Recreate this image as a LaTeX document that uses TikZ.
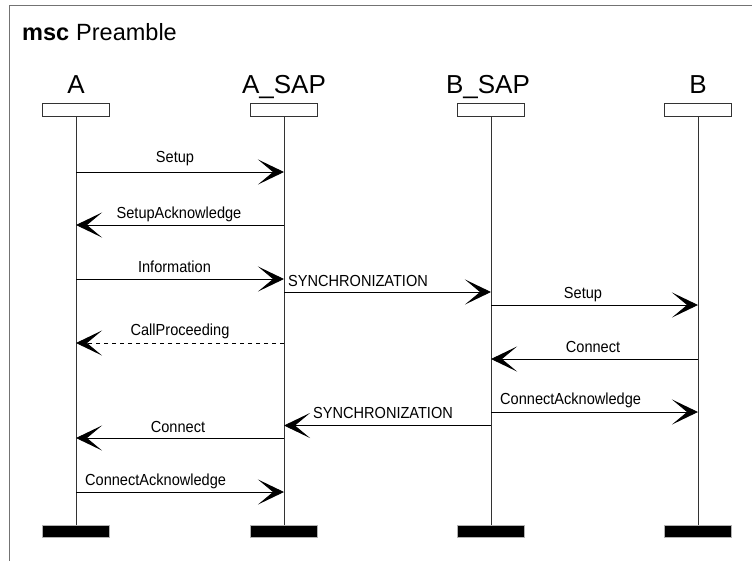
\documentclass[tikz,border=0pt]{standalone}
\usepackage{fontspec}
\setmainfont{Liberation Sans}
\newfontfamily\lblfont{Liberation Sans}[FakeStretch=0.91]
\usetikzlibrary{arrows.meta}
\tikzset{
  frame/.style={draw=black!55, line width=1.8pt},
  headbox/.style={draw=black!80, line width=0.9pt, fill=white, minimum width=67pt, minimum height=13pt, inner sep=0pt},
  endbar/.style={fill=black, draw=black!30, line width=0.5pt, minimum width=67pt, minimum height=12.5pt, inner sep=0pt},
  lifeline/.style={draw=black!80, line width=0.9pt},
  inst/.style={font=\fontsize{26}{28}\selectfont, inner sep=0pt, anchor=base},
  msg/.style={draw=black, line width=0.9pt, -{Stealth[length=26pt,width=25pt,inset=15pt]}},
  dmsg/.style={msg, dash pattern=on 4pt off 4pt},
  lbl/.style={font=\lblfont\fontsize{16}{18}\selectfont, inner sep=0pt, anchor=base},
  lblw/.style={lbl, anchor=base west},
}
\begin{document}
\begin{tikzpicture}[x=1pt,y=-1pt]
\useasboundingbox (0,0) rectangle (752,560);
\clip (0,0) rectangle (752,560);
\draw[frame] (9.5,5.5) rectangle (770,580);
\node[inner sep=0pt, anchor=base west, font=\fontsize{23.5}{26}\selectfont] (title) at (22,40) {\textbf{msc}\hspace{7pt}Preamble};

% instances
\node[inst] (nA) at (76,93) {A};
\node[inst] (nAS) at (284,93) {A\_SAP};
\node[inst] (nBS) at (488,93) {B\_SAP};
\node[inst] (nB) at (698,93) {B};

\node[headbox] (hA) at (76,109.5) {};
\node[headbox] (hAS) at (284,109.5) {};
\node[headbox] (hBS) at (491,109.5) {};
\node[headbox] (hB) at (698,109.5) {};

\node[endbar] (eA) at (76,531.2) {};
\node[endbar] (eAS) at (284,531.2) {};
\node[endbar] (eBS) at (491,531.2) {};
\node[endbar] (eB) at (698,531.2) {};

\draw[lifeline] (hA.south) -- (eA.north);
\draw[lifeline] (hAS.south) -- (eAS.north);
\draw[lifeline] (hBS.south) -- (eBS.north);
\draw[lifeline] (hB.south) -- (eB.north);

% message end points
\coordinate (m1s) at (76,172);   \coordinate (m1e) at (284,172);
\coordinate (m2s) at (284,225);  \coordinate (m2e) at (76,225);
\coordinate (m3s) at (76,279);   \coordinate (m3e) at (284,279);
\coordinate (m4s) at (284,292);  \coordinate (m4e) at (491,292);
\coordinate (m5s) at (491,305);  \coordinate (m5e) at (698,305);
\coordinate (m6s) at (284,343);  \coordinate (m6e) at (76,343);
\coordinate (m7s) at (698,359);  \coordinate (m7e) at (491,359);
\coordinate (m8s) at (491,412);  \coordinate (m8e) at (698,412);
\coordinate (m9s) at (491,425.5);\coordinate (m9e) at (284,425.5);
\coordinate (m10s) at (284,438); \coordinate (m10e) at (76,438);
\coordinate (m11s) at (76,492);  \coordinate (m11e) at (284,492);

\draw[msg] (m1s) -- (m1e);
\draw[msg] (m2s) -- (m2e);
\draw[msg] (m3s) -- (m3e);
\draw[msg] (m4s) -- (m4e);
\draw[msg] (m5s) -- (m5e);
\draw[dmsg] (m6s) -- (m6e);
\draw[msg] (m7s) -- (m7e);
\draw[msg] (m8s) -- (m8e);
\draw[msg] (m9s) -- (m9e);
\draw[msg] (m10s) -- (m10e);
\draw[msg] (m11s) -- (m11e);

% labels
\node[lbl] (l1) at (175,162.7) {Setup};
\node[lbl] (l2) at (179,218.7) {SetupAcknowledge};
\node[lbl] (l3) at (174.5,272) {Information};
\node[lblw] (l4) at (288,286) {SYNCHRONIZATION};
\node[lbl] (l5) at (583,298) {Setup};
\node[lbl] (l6) at (180,335) {CallProceeding};
\node[lbl] (l7) at (593,352) {Connect};
\node[lblw] (l8) at (500,404) {ConnectAcknowledge};
\node[lblw] (l9) at (313,418) {SYNCHRONIZATION};
\node[lbl] (l10) at (178,432) {Connect};
\node[lblw] (l11) at (85,485) {ConnectAcknowledge};
\end{tikzpicture}
\end{document}
